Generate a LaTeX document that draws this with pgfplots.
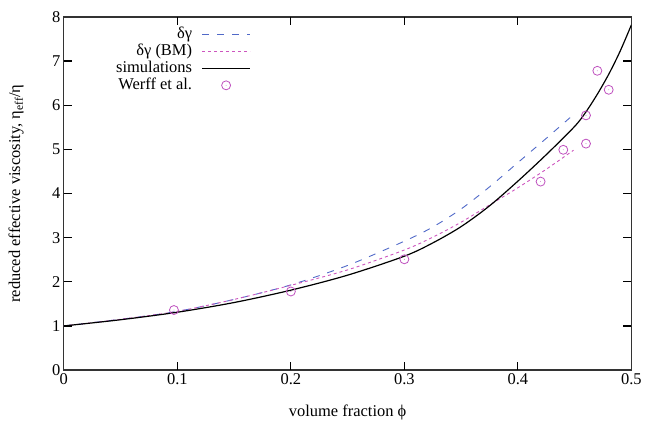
\documentclass[border=0pt]{standalone}
\usepackage{fontspec}
\setmainfont{Liberation Serif}
\usepackage{pgfplots}
\pgfplotsset{compat=1.18}
\definecolor{dgblue}{RGB}{80,105,200}
\definecolor{dgpink}{RGB}{205,85,190}
\definecolor{dgmag}{RGB}{190,80,190}
\pgfdeclareplotmark{odot}{%
  \pgfpathcircle{\pgfpointorigin}{\pgfplotmarksize}\pgfusepathqstroke
  \pgfpathcircle{\pgfpointorigin}{0.4pt}\pgfusepathqfill}
\pgfplotsset{
  lineleg/.style={legend image code/.code={\path (0pt,0pt); \draw[##1] (8pt,0pt) -- (56pt,0pt);}},
  markleg/.style={legend image code/.code={\path (0pt,0pt) (56pt,0pt); \draw[##1] plot coordinates {(32pt,0pt)};}},
}
\begin{document}
\begin{tikzpicture}[font=\fontsize{16.5}{19}\selectfont]
\begin{axis}[
  width=569pt, height=354pt, scale only axis,
  xmin=0, xmax=0.5, ymin=0, ymax=8,
  xtick={0,0.1,0.2,0.3,0.4,0.5}, ytick={0,1,2,3,4,5,6,7,8},
  xtick pos=both, ytick pos=both,
  tick align=inside,
  major tick length=8pt,
  tick style={draw=black, line width=1.2pt, solid},
  axis line style={line width=1.3pt, black!80},
  /pgf/number format/assume math mode=true,
  ticklabel style={font=\fontsize{16.5}{19}\selectfont},
  xlabel={volume fraction ϕ},
  ylabel={reduced effective viscosity, η\textsubscript{eff}/η},
  xlabel style={at={(axis description cs:0.5,-0.121)}, anchor=center},
  ylabel style={at={(axis description cs:-0.084,0.5)}, anchor=center},
  legend plot pos=right,
  legend cell align=right,
  legend style={draw=none, fill=none, at={(0.3295,0.975)}, anchor=north east,
    row sep=0pt, inner sep=0pt, font=\fontsize{16.5}{19}\selectfont,
    nodes={text height=11pt, text depth=3pt, inner sep=1.5pt}},
]
\addplot[dgblue, line width=0.9pt, dash pattern=on 7pt off 8pt, smooth, lineleg]
  coordinates {(0,1.00) (0.05,1.15) (0.1,1.33) (0.15,1.60) (0.2,1.93) (0.25,2.37)
   (0.3,2.92) (0.325,3.24) (0.35,3.65) (0.375,4.15) (0.4,4.70) (0.425,5.25) (0.446,5.72)};
\addlegendentry{δγ}
\addplot[dgpink, line width=0.9pt, dash pattern=on 3pt off 3pt, smooth, lineleg]
  coordinates {(0,1.00) (0.05,1.15) (0.1,1.33) (0.15,1.60) (0.2,1.92) (0.25,2.27)
   (0.3,2.72) (0.325,3.01) (0.35,3.35) (0.375,3.74) (0.4,4.13) (0.425,4.55) (0.449,4.98)};
\addlegendentry{δγ (BM)}
\addplot[black, line width=1.2pt, smooth, lineleg]
  coordinates {(0,1.00) (0.05,1.14) (0.1,1.31) (0.15,1.53) (0.2,1.81) (0.25,2.15)
   (0.3,2.58) (0.325,2.88) (0.35,3.25) (0.375,3.72) (0.4,4.28) (0.425,4.88)
   (0.45,5.52) (0.46,5.85) (0.47,6.25) (0.48,6.70) (0.49,7.22) (0.5,7.82)};
\addlegendentry{simulations}
\addplot[dgmag, only marks, mark=odot, mark size=4.5pt, line width=0.8pt, markleg]
  coordinates {(0.097,1.36) (0.2,1.78) (0.3,2.51) (0.42,4.27) (0.44,4.99)
   (0.46,5.13) (0.46,5.77) (0.47,6.78) (0.48,6.35)};
\addlegendentry{Werff et al.}
\pgfplotsinvokeforeach{0.1,0.2,0.3,0.4}{
  \draw[black, line width=1.2pt] (axis cs:#1,0) -- (axis cs:#1,0.18);
  \draw[black, line width=1.2pt] (axis cs:#1,8) -- (axis cs:#1,7.82);
}
\pgfplotsinvokeforeach{1,2,3,4,5,6,7}{
  \draw[black, line width=1.2pt] (axis cs:0,#1) -- (axis cs:0.007,#1);
  \draw[black, line width=1.2pt] (axis cs:0.5,#1) -- (axis cs:0.493,#1);
}
\end{axis}
\path ([xshift=-64pt,yshift=-51pt]current axis.south west)
      ([xshift=12pt,yshift=17pt]current axis.north east);
\end{tikzpicture}
\end{document}
